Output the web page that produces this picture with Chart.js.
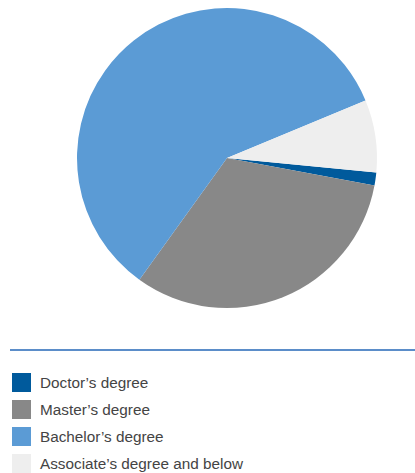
<!DOCTYPE html>
<html>
<head>
<meta charset="utf-8">
<script src="https://cdn.jsdelivr.net/npm/chart.js@4/dist/chart.umd.min.js"></script>
<style>
  html, body { margin: 0; padding: 0; background: #fff; width: 415px; height: 473px; overflow: hidden; }
  #wrap { position: absolute; left: 0; top: 0; width: 415px; height: 316px; }
  #rule { position: absolute; left: 10px; top: 349px; width: 405px; height: 2px; background: #5b8dc9; }
  #legend { position: absolute; left: 12px; top: 373px; font-family: "Liberation Sans", Arial, sans-serif; font-size: 15.3px; color: #444444; }
  .item { position: relative; height: 19px; margin-bottom: 8px; }
  .sw { position: absolute; left: 0; top: 0; width: 19px; height: 19px; }
  .lb { position: absolute; left: 28px; top: 0; line-height: 19px; white-space: nowrap; }
</style>
</head>
<body>
<div id="wrap"><canvas id="c"></canvas></div>
<div id="rule"></div>
<div id="legend"></div>
<script>
const categories = ["Doctor’s degree", "Master’s degree", "Bachelor’s degree", "Associate’s degree and below"];
const shares = [1.4, 32.0, 58.8, 7.8];
const colors = ["#005a9c", "#888888", "#5b9bd5", "#eeeeee"];

new Chart(document.getElementById('c'), {
  type: 'pie',
  data: {
    labels: categories,
    datasets: [{ data: shares, backgroundColor: colors, borderWidth: 0, hoverOffset: 0 }]
  },
  options: {
    responsive: true,
    maintainAspectRatio: false,
    animation: false,
    rotation: 95.5,
    layout: { padding: { left: 39, right: 0, top: 8, bottom: 8 } },
    plugins: { legend: { display: false }, tooltip: { enabled: false } }
  }
});

const lg = document.getElementById('legend');
categories.forEach((name, i) => {
  const it = document.createElement('div');
  it.className = 'item';
  const sw = document.createElement('div');
  sw.className = 'sw';
  sw.style.background = colors[i];
  const lb = document.createElement('div');
  lb.className = 'lb';
  lb.textContent = name;
  it.appendChild(sw); it.appendChild(lb);
  lg.appendChild(it);
});
</script>
</body>
</html>
